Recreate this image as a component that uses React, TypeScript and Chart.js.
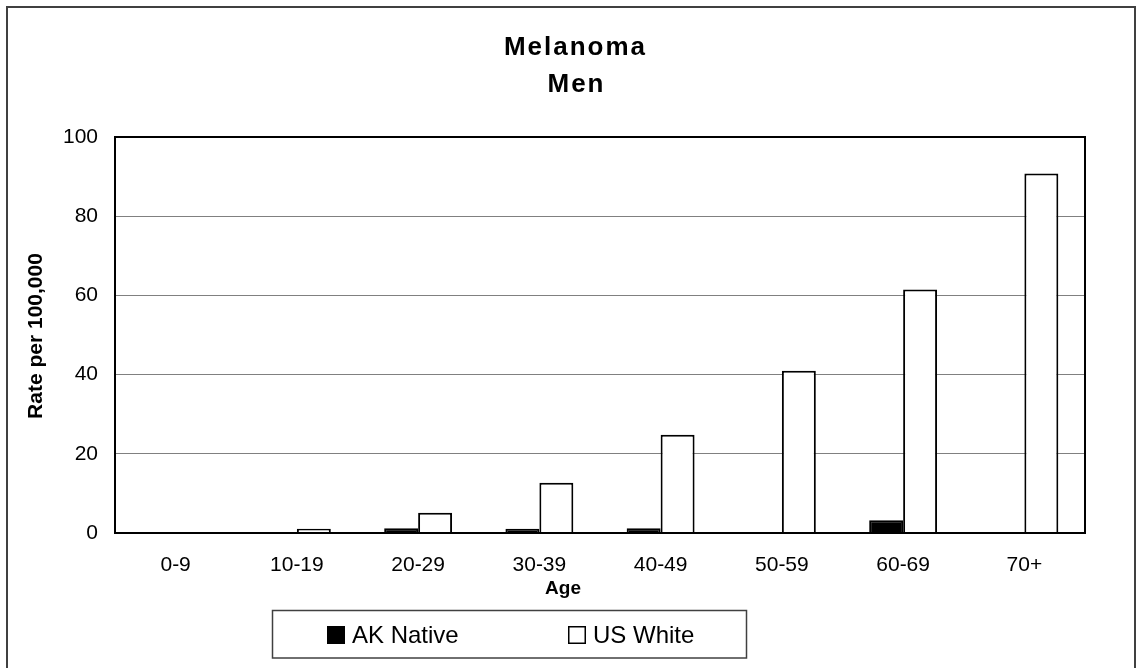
import React, { useEffect, useRef } from "react";
import { Chart, registerables } from "chart.js";

Chart.register(...registerables);

const categories = ["0-9", "10-19", "20-29", "30-39", "40-49", "50-59", "60-69", "70+"];
const akNative = [0, 0, 1.2, 1.1, 1.2, 0, 3.2, 0];
const usWhite = [0, 1.1, 5.1, 12.7, 24.8, 41.0, 61.5, 90.8];
const yTickValues = [0, 20, 40, 60, 80, 100];
const titleLines = ["Melanoma", "Men"];
const xTitle = "Age";
const yTitle = "Rate per 100,000";
const seriesNames = ["AK Native", "US White"];

const FONT = "'Liberation Sans', Arial, Helvetica, sans-serif";

const decorPlugin = {
  id: "decor",
  afterDatasetsDraw(chart: any) {
    const { ctx, chartArea } = chart;
    ctx.save();
    // plot box
    ctx.strokeStyle = "#000";
    ctx.lineWidth = 2;
    ctx.strokeRect(chartArea.left, chartArea.top, chartArea.right - chartArea.left, chartArea.bottom - chartArea.top);
    ctx.restore();
  },
  afterDraw(chart: any) {
    const { ctx } = chart;
    ctx.save();
    // outer frame
    ctx.strokeStyle = "#404040";
    ctx.lineWidth = 2;
    ctx.strokeRect(7, 7, 1128, 700);

    // title
    ctx.fillStyle = "#000";
    ctx.font = `bold 26px ${FONT}`;
    (ctx as any).letterSpacing = "2px";
    ctx.textAlign = "center";
    ctx.textBaseline = "alphabetic";
    ctx.fillText(titleLines[0], 575.5, 55);
    ctx.fillText(titleLines[1], 576.5, 92);
    (ctx as any).letterSpacing = "0px";

    // y title
    ctx.save();
    ctx.translate(36, 336);
    ctx.rotate(-Math.PI / 2);
    ctx.font = `bold 21px ${FONT}`;
    ctx.textAlign = "center";
    ctx.textBaseline = "middle";
    ctx.fillText(yTitle, 0, 0);
    ctx.restore();

    // x title
    ctx.font = `bold 19px ${FONT}`;
    ctx.textAlign = "center";
    ctx.textBaseline = "middle";
    ctx.fillText(xTitle, 563, 589);

    // legend box
    ctx.strokeStyle = "#404040";
    ctx.lineWidth = 1.5;
    ctx.strokeRect(272.5, 610.5, 474, 47.5);
    const ds = chart.data.datasets;
    const itemX = [327, 568];
    ctx.font = `24px ${FONT}`;
    ctx.textAlign = "left";
    ctx.textBaseline = "middle";
    ds.forEach((d: any, i: number) => {
      const x = itemX[i];
      ctx.fillStyle = d.backgroundColor;
      ctx.fillRect(x, 626, 18, 18);
      ctx.strokeStyle = "#000";
      ctx.lineWidth = 1.5;
      ctx.strokeRect(x + 0.75, 626.75, 16.5, 16.5);
      ctx.fillStyle = "#000";
      ctx.fillText(seriesNames[i], x + 25, 636);
    });
    ctx.restore();
  },
};

export default function App() {
  const ref = useRef<HTMLCanvasElement | null>(null);
  useEffect(() => {
    if (!ref.current) return;
    const chart = new Chart(ref.current, {
      type: "bar",
      data: {
        labels: categories,
        datasets: [
          {
            label: seriesNames[0],
            data: akNative,
            backgroundColor: "#000000",
            borderColor: "#000000",
            borderWidth: 2,
            categoryPercentage: 0.56,
            barPercentage: 1,
          },
          {
            label: seriesNames[1],
            data: usWhite,
            backgroundColor: "#ffffff",
            borderColor: "#000000",
            borderWidth: 2,
            categoryPercentage: 0.56,
            barPercentage: 1,
          },
        ],
      },
      options: {
        animation: false,
        responsive: false,
        devicePixelRatio: 1,
        layout: { padding: { top: 137, left: 0, right: 53, bottom: 85 } },
        plugins: {
          legend: { display: false },
          title: { display: false },
          tooltip: { enabled: false },
        },
        scales: {
          x: {
            grid: { display: false, drawTicks: false },
            border: { display: false },
            ticks: {
              color: "#000",
              font: { family: FONT, size: 21 },
              padding: 20,
              maxRotation: 0,
            },
            afterFit: (s: any) => {
              s.height = 50;
            },
          },
          y: {
            min: 0,
            max: 100,
            afterBuildTicks: (s: any) => {
              s.ticks = yTickValues.map((v) => ({ value: v }));
            },
            grid: { color: "#808080", lineWidth: 1, drawTicks: false },
            border: { display: false },
            ticks: {
              color: "#000",
              font: { family: FONT, size: 21 },
              padding: 17,
            },
            afterFit: (s: any) => {
              s.width = 115;
            },
          },
        },
      },
      plugins: [decorPlugin],
    });
    return () => chart.destroy();
  }, []);
  return (
    <div style={{ position: "absolute", left: 0, top: 0, width: 1138, height: 668, background: "#fff" }}>
      <canvas ref={ref} width={1138} height={668} style={{ display: "block" }} />
    </div>
  );
}
